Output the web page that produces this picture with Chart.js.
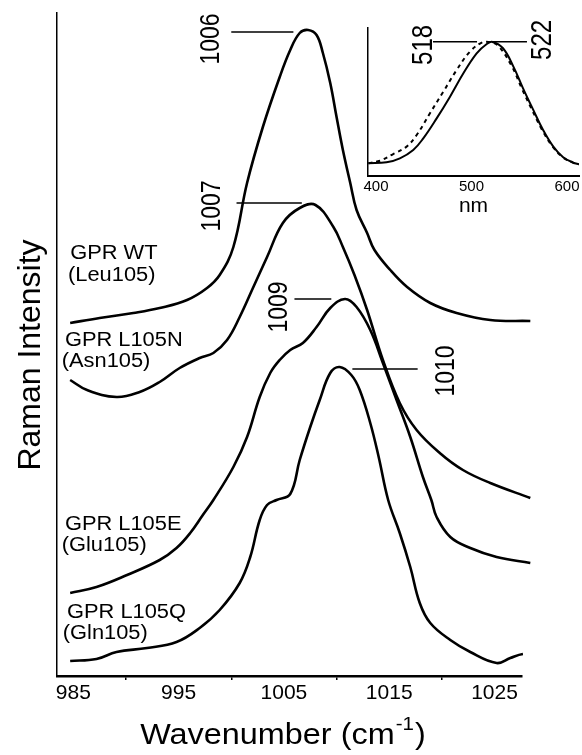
<!DOCTYPE html>
<html>
<head>
<meta charset="utf-8">
<script src="https://cdn.jsdelivr.net/npm/chart.js@4.4.1/dist/chart.umd.min.js"></script>
<style>
  html, body { margin: 0; padding: 0; background: #fff; }
  #wrap { position: relative; width: 582px; height: 755px; }
  #main { position: absolute; left: 0; top: 0; }
  #inset { position: absolute; left: 340px; top: 0; }
</style>
</head>
<body>
<div id="wrap">
  <canvas id="main" width="582" height="755"></canvas>
  <canvas id="inset" width="242" height="220"></canvas>
</div>
<script>
// Raman spectra of the four GPR variants (offset traces, arbitrary units)
const wtWave = [984.7, 987.5, 990.7, 993.2, 995.8, 997.7, 998.9, 1000.2, 1001.5, 1003.0, 1004.6, 1005.6, 1006.5, 1007.3, 1008.1, 1008.7, 1009.4, 1010.0, 1010.6, 1011.3, 1011.9, 1012.9, 1013.6, 1015.1, 1016.7, 1018.9, 1021.4, 1024.6, 1028.4];
const wtInt  = [35.3, 35.8, 36.3, 36.8, 37.6, 38.8, 40.1, 42.9, 49.3, 54.9, 59.9, 62.6, 64.3, 64.6, 64.1, 62.3, 59.3, 55.9, 52.6, 49.3, 46.6, 44.3, 42.6, 40.6, 38.9, 37.3, 36.3, 35.6, 35.5];

const asnWave = [984.7, 986.3, 989.1, 991.3, 993.2, 995.1, 997.0, 998.3, 999.6, 1000.8, 1002.1, 1003.4, 1004.9, 1006.5, 1008.0, 1009.7, 1010.6, 1011.7, 1012.9, 1014.4, 1016.0, 1017.6, 1019.8, 1022.0, 1024.6, 1028.4];
const asnInt  = [29.6, 28.6, 27.9, 28.4, 29.4, 30.8, 31.8, 32.3, 33.6, 35.9, 38.9, 41.9, 45.3, 46.8, 47.1, 44.9, 42.9, 40.1, 36.6, 31.6, 27.3, 24.6, 22.3, 20.6, 19.3, 17.8];

const gluWave = [984.7, 987.2, 990.1, 993.2, 994.8, 996.1, 997.3, 998.3, 1000.2, 1001.5, 1002.7, 1003.7, 1004.6, 1005.6, 1006.8, 1008.1, 1009.4, 1010.8, 1011.9, 1013.2, 1014.4, 1015.7, 1017.0, 1018.2, 1019.0, 1019.5, 1020.8, 1022.7, 1025.2, 1028.4];
const gluInt  = [8.3, 8.9, 10.1, 11.6, 12.8, 14.3, 16.1, 17.6, 20.9, 23.9, 27.9, 30.3, 31.6, 32.6, 33.3, 34.9, 36.8, 37.7, 36.9, 34.6, 31.3, 27.6, 23.9, 19.9, 17.6, 15.9, 13.9, 12.8, 11.9, 11.3];

const glnWave = [984.7, 987.2, 989.1, 992.0, 994.8, 997.0, 998.9, 1000.8, 1001.8, 1002.7, 1003.4, 1004.3, 1005.6, 1006.5, 1007.5, 1008.4, 1009.4, 1010.3, 1011.4, 1012.2, 1013.2, 1014.0, 1014.9, 1016.0, 1017.0, 1017.9, 1018.9, 1020.8, 1022.7, 1025.2, 1026.5, 1027.7, 1028.4];
const glnInt  = [1.5, 1.7, 2.4, 2.8, 3.4, 4.8, 6.6, 9.3, 11.9, 15.6, 17.1, 17.6, 18.2, 21.6, 24.9, 27.6, 30.3, 30.9, 30.1, 28.6, 25.3, 21.9, 17.6, 14.3, 10.9, 7.3, 5.3, 3.6, 2.4, 1.3, 1.8, 2.2, 2.1];

const xTickValues = [985, 990, 995, 1000, 1005, 1010, 1015, 1020, 1025];
const xTickLabels = [985, 995, 1005, 1015, 1025];

// inset: absorption spectra, normalised
const absSolidNm  = [392, 411, 425, 439, 449.5, 463.5, 477.5, 491.5, 505.4, 516, 522, 533, 543.9, 554, 564.7, 575, 585.7, 596, 606.6, 612.6];
const absSolidVal = [0.095, 0.102, 0.132, 0.194, 0.281, 0.43, 0.592, 0.766, 0.915, 0.985, 1.0, 0.953, 0.816, 0.654, 0.493, 0.343, 0.219, 0.14, 0.1, 0.087];
const absDashNm   = [392, 404, 418, 432, 442.6, 456.5, 470.5, 484.5, 498.4, 510.7, 518, 527.5, 542.4, 552.6, 563.4, 574, 585, 595.5, 606, 612.6];
const absDashVal  = [0.095, 0.114, 0.164, 0.219, 0.306, 0.468, 0.629, 0.791, 0.928, 0.995, 1.0, 0.975, 0.816, 0.654, 0.493, 0.343, 0.219, 0.14, 0.1, 0.087];
const insetTickValues = [400, 500, 600];

// peak markers (label, text anchor, leader line)
const peakMarks = [
    { label: '1006', tx: 997.9, ty: 63.7, from: 1000.0, to: 1005.9, level: 64.4 },
    { label: '1007', tx: 998.0, ty: 47.0, from: 1000.5, to: 1006.7, level: 47.3 },
    { label: '1009', tx: 1004.4, ty: 36.9, from: 1006.0, to: 1009.5, level: 37.7 },
    { label: '1010', tx: 1020.2, ty: 30.5, from: 1011.5, to: 1017.7, level: 30.7 }
];
const insetMarks = [
    { label: '518', tx: 447.9, ty: 0.978, from: 459.7, to: 505.8, level: 1.002 },
    { label: '522', tx: 572.5, ty: 1.015, from: 522.5, to: 558.1, level: 1.002 }
];
const curveNames = [
    { text: 'GPR WT', x: 984.7, y: 42.4 },
    { text: '(Leu105)', x: 984.5, y: 40.2 },
    { text: 'GPR L105N', x: 984.2, y: 33.65 },
    { text: '(Asn105)', x: 983.9, y: 31.6 },
    { text: 'GPR L105E', x: 984.2, y: 15.3 },
    { text: '(Glu105)', x: 983.9, y: 13.2 },
    { text: 'GPR L105Q', x: 984.4, y: 6.45 },
    { text: '(Gln105)', x: 984.0, y: 4.4 }
];

const FONT = '"Liberation Sans", Arial, Helvetica, sans-serif';
Chart.defaults.font.family = FONT;
Chart.defaults.color = '#000';

function toPoints(xs, ys) {
    return xs.map((x, i) => ({ x: x, y: ys[i] }));
}

// text drawn with a slight horizontal stretch, centred on the cap height
function drawText(ctx, text, x, y, size, sx, rotate, align) {
    ctx.save();
    ctx.translate(x, y);
    ctx.scale(sx, 1);
    if (rotate) ctx.rotate(-Math.PI / 2);
    ctx.font = size + 'px ' + FONT;
    ctx.textAlign = align || 'center';
    ctx.textBaseline = 'alphabetic';
    ctx.fillStyle = '#000';
    ctx.fillText(text, 0, size * 0.358);
    ctx.restore();
}

function drawMarks(chart, marks, size) {
    const ctx = chart.ctx;
    const xs = chart.scales.x, ys = chart.scales.y;
    ctx.save();
    ctx.strokeStyle = '#000';
    ctx.lineWidth = 1.5;
    marks.forEach(m => {
        const ly = ys.getPixelForValue(m.level);
        ctx.beginPath();
        ctx.moveTo(xs.getPixelForValue(m.from), ly);
        ctx.lineTo(xs.getPixelForValue(m.to), ly);
        ctx.stroke();
        drawText(ctx, m.label, xs.getPixelForValue(m.tx), ys.getPixelForValue(m.ty), size, 1.2, true);
    });
    ctx.restore();
}

const mainText = {
    id: 'mainText',
    afterDraw(chart) {
        const ctx = chart.ctx;
        const xs = chart.scales.x, ys = chart.scales.y;
        drawMarks(chart, peakMarks, 23);

        curveNames.forEach(c => {
            drawText(ctx, c.text, xs.getPixelForValue(c.x), ys.getPixelForValue(c.y), 19.5, 1.12, false, 'left');
        });

        // y title
        ctx.save();
        ctx.translate(40, 355);
        ctx.rotate(-Math.PI / 2);
        ctx.font = '32px ' + FONT;
        ctx.textAlign = 'center';
        ctx.textBaseline = 'alphabetic';
        ctx.fillStyle = '#000';
        ctx.fillText('Raman Intensity', 0, 0);
        ctx.restore();

        // x title with superscript
        ctx.save();
        ctx.fillStyle = '#000';
        ctx.textBaseline = 'alphabetic';
        ctx.textAlign = 'left';
        const sx = 1.08;
        ctx.font = '30px ' + FONT;
        const w1 = ctx.measureText('Wavenumber (cm').width;
        const w3 = ctx.measureText(')').width;
        ctx.font = '19px ' + FONT;
        const w2 = ctx.measureText('-1').width;
        const total = (w1 + w2 + w3 + 2) * sx;
        ctx.translate(283 - total / 2, 744);
        ctx.scale(sx, 1);
        ctx.font = '30px ' + FONT;
        ctx.fillText('Wavenumber (cm', 0, 0);
        ctx.font = '19px ' + FONT;
        ctx.fillText('-1', w1 + 1, -14);
        ctx.font = '30px ' + FONT;
        ctx.fillText(')', w1 + w2 + 2, 0);
        ctx.restore();
    }
};

const insetText = {
    id: 'insetText',
    afterDraw(chart) {
        drawMarks(chart, insetMarks, 24);
    }
};

function trace(data) {
    return {
        data: data,
        borderColor: '#000',
        borderWidth: 2.6,
        pointRadius: 0,
        fill: false,
        tension: 0.4,
        clip: false
    };
}

new Chart(document.getElementById('main'), {
    type: 'line',
    data: {
        datasets: [
            trace(toPoints(wtWave, wtInt)),
            trace(toPoints(asnWave, asnInt)),
            trace(toPoints(gluWave, gluInt)),
            trace(toPoints(glnWave, glnInt))
        ]
    },
    options: {
        responsive: false,
        animation: false,
        layout: { padding: { top: 13, right: 60, left: 0, bottom: 0 } },
        plugins: { legend: { display: false }, tooltip: { enabled: false } },
        elements: { line: { capBezierPoints: false } },
        scales: {
            x: {
                type: 'linear',
                min: 983.45,
                max: 1027.61,
                afterFit: s => { s.height = 79; },
                afterBuildTicks: s => { s.ticks = xTickValues.map(v => ({ value: v })); },
                ticks: {
                    autoSkip: false,
                    maxRotation: 0,
                    padding: 1,
                    font: { size: 21 },
                    color: '#000',
                    callback: v => xTickLabels.includes(v) ? String(v) : ''
                },
                grid: {
                    drawOnChartArea: false,
                    drawTicks: true,
                    tickLength: 4,
                    lineWidth: 1.5,
                    color: c => (c.tick && xTickLabels.includes(c.tick.value)) ? 'rgba(0,0,0,0)' : '#000'
                },
                border: { display: true, color: '#000', width: 2.5 }
            },
            y: {
                type: 'linear',
                min: 0,
                max: 66.3,
                afterFit: s => { s.width = 57; },
                ticks: { display: false },
                grid: { display: false },
                border: { display: true, color: '#000', width: 1.5 }
            }
        }
    },
    plugins: [mainText]
});

function absTrace(data, dash) {
    return {
        data: data,
        borderColor: '#000',
        borderWidth: 2,
        borderDash: dash,
        pointRadius: 0,
        fill: false,
        tension: 0.4
    };
}

new Chart(document.getElementById('inset'), {
    type: 'line',
    data: {
        datasets: [
            absTrace(toPoints(absDashNm, absDashVal), [4, 4]),
            absTrace(toPoints(absSolidNm, absSolidVal), [])
        ]
    },
    options: {
        responsive: false,
        animation: false,
        layout: { padding: { top: 28, right: 3, left: 0, bottom: 0 } },
        plugins: { legend: { display: false }, tooltip: { enabled: false } },
        scales: {
            x: {
                type: 'linear',
                min: 391.6,
                max: 612.6,
                afterFit: s => { s.height = 44; },
                afterBuildTicks: s => { s.ticks = insetTickValues.map(v => ({ value: v })); },
                ticks: { autoSkip: false, maxRotation: 0, padding: 2, font: { size: 15 }, color: '#000' },
                grid: { display: false, drawTicks: false },
                border: { display: true, color: '#000', width: 2 },
                title: { display: true, text: 'nm', font: { size: 21 }, color: '#000', padding: { top: 0, bottom: 1 } }
            },
            y: {
                type: 'linear',
                min: 0,
                max: 1.104,
                afterFit: s => { s.width = 28; },
                ticks: { display: false },
                grid: { display: false },
                border: { display: true, color: '#000', width: 1.5 }
            }
        }
    },
    plugins: [insetText]
});
</script>
</body>
</html>
